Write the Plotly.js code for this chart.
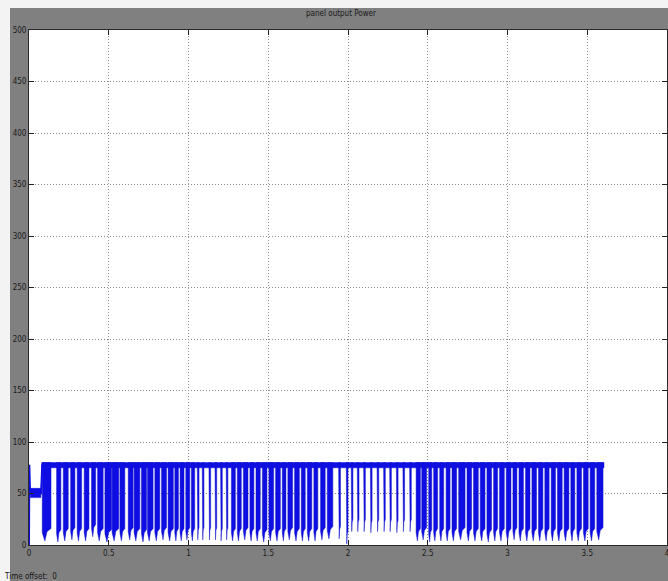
<!DOCTYPE html>
<html>
<head>
<meta charset="utf-8">
<script src="https://cdn.plot.ly/plotly-3.0.1.min.js"></script>
<style>
  html, body { margin: 0; padding: 0; background: #808080; }
  #chart { width: 668px; height: 581px; }
</style>
</head>
<body>
<div id="chart"></div>
<script>
// Panel output power (W) against simulation time (s)

// start-up transient
const initT = [0.000, 0.002, 0.004, 0.006, 0.009, 0.075, 0.079, 0.083];
const initP = [0, 78, 42, 55, 50, 50, 62, 78];
// oscillating band during start-up
const bandT = [0.008, 0.074];
const bandP = [46, 55];

// steady upper power level and where it holds
const highP = [75, 80];
const highT = [0.080, 3.605];

// each switching burst: start time, end time and lowest power reached
const burstStart = [
  0.083, 0.173, 0.215, 0.261, 0.302, 0.346, 0.392, 0.430, 0.476, 0.521, 0.570,
  0.622, 0.659, 0.705, 0.743, 0.789, 0.831, 0.872, 0.914, 0.947, 0.983, 1.018,
  1.055, 1.086, 1.128, 1.166, 1.201, 1.236,
  1.269, 1.306, 1.344, 1.385, 1.423, 1.463, 1.504, 1.546, 1.588, 1.623, 1.665,
  1.707, 1.745, 1.786, 1.828, 1.870,
  1.941, 1.989,
  2.020, 2.058, 2.098, 2.140, 2.182, 2.223, 2.261, 2.303, 2.344, 2.386,
  2.427, 2.462, 2.506, 2.537, 2.575, 2.615, 2.652, 2.694, 2.746, 2.787, 2.829,
  2.871, 2.913, 2.950, 2.992, 3.034, 3.072, 3.113, 3.153, 3.194, 3.234, 3.274,
  3.313, 3.355, 3.397, 3.435, 3.476, 3.518, 3.560
];
const burstEnd = [
  0.138, 0.200, 0.246, 0.288, 0.330, 0.376, 0.418, 0.465, 0.518, 0.563, 0.601,
  0.653, 0.695, 0.737, 0.778, 0.820, 0.862, 0.905, 0.937, 0.972, 1.008, 1.039,
  1.066, 1.097, 1.139, 1.177, 1.212, 1.247,
  1.294, 1.331, 1.373, 1.410, 1.450, 1.492, 1.534, 1.576, 1.611, 1.653, 1.695,
  1.732, 1.773, 1.811, 1.857, 1.905,
  1.953, 2.000,
  2.031, 2.069, 2.109, 2.151, 2.193, 2.234, 2.272, 2.314, 2.355, 2.397,
  2.454, 2.493, 2.525, 2.562, 2.600, 2.640, 2.681, 2.734, 2.775, 2.817, 2.859,
  2.900, 2.938, 2.980, 3.022, 3.059, 3.100, 3.141, 3.182, 3.222, 3.261, 3.301,
  3.343, 3.385, 3.422, 3.464, 3.506, 3.547, 3.599
];
const burstLow = [
  4, 3, 4, 5, 4, 4, 8, 4, 3, 4, 4,
  5, 4, 3, 4, 4, 5, 4, 4, 4, 5, 4,
  5, 5, 5, 5, 4, 5,
  4, 4, 5, 4, 4, 3, 4, 4, 4, 5, 4,
  4, 4, 4, 5, 6,
  6, 1,
  13, 13, 13, 12, 13, 13, 13, 12, 13, 13,
  4, 5, 3, 4, 4, 4, 4, 5, 4, 4, 4,
  3, 4, 4, 4, 5, 4, 4, 4, 4, 4, 4,
  4, 4, 4, 4, 4, 4, 5
];

// axis ticks
const xTicks = [0, 0.5, 1, 1.5, 2, 2.5, 3, 3.5, 4];
const xTickText = ['0', '0.5', '1', '1.5', '2', '2.5', '3', '3.5', '4'];
const yTicks = [0, 50, 100, 150, 200, 250, 300, 350, 400, 450, 500];

// outline builder: closed polygons separated by gaps
function polygons() {
  const px = [], py = [];
  return {
    px, py,
    add(xs, ys) {
      for (let i = 0; i < xs.length; i++) { px.push(xs[i]); py.push(ys[i]); }
      px.push(xs[0]); py.push(ys[0]);
      px.push(null); py.push(null);
    }
  };
}

// upper level bar and start-up band
const steady = polygons();
steady.add([highT[0], highT[1], highT[1], highT[0]], [highP[1], highP[1], highP[0], highP[0]]);
steady.add([bandT[0], bandT[1], bandT[1], bandT[0]], [bandP[1], bandP[1], bandP[0], bandP[0]]);

// switching bursts hanging from the upper level
const bursts = polygons();
const barTop = highP[1];
for (let i = 0; i < burstStart.length; i++) {
  const s = burstStart[i], e = burstEnd[i], lo = burstLow[i], w = e - s;
  bursts.add(
    [s, s, s + 0.3 * w, s + 0.55 * w, e, e],
    [barTop, lo + 8, lo, lo + 9, lo + 12, barTop]
  );
}

const blue = 'rgb(14,14,228)';
const edge = 'rgb(22,22,200)';

const traces = [
  {
    x: steady.px, y: steady.py, type: 'scatter', mode: 'lines',
    fill: 'toself', fillcolor: blue,
    line: { color: blue, width: 0.5 },
    hoverinfo: 'skip', showlegend: false
  },
  {
    x: bursts.px, y: bursts.py, type: 'scatter', mode: 'lines',
    fill: 'toself', fillcolor: blue,
    line: { color: edge, width: 0.5 },
    hoverinfo: 'skip', showlegend: false
  },
  {
    x: initT, y: initP, type: 'scatter', mode: 'lines',
    line: { color: blue, width: 2 },
    hoverinfo: 'skip', showlegend: false
  }
];

const tickFont = { family: 'Liberation Sans Narrow, DejaVu Sans Condensed, Liberation Sans, sans-serif', size: 8, color: '#1a1a1a' };

const layout = {
  width: 668, height: 581,
  margin: { l: 29, r: 1, t: 30, b: 36, pad: 0 },
  paper_bgcolor: '#808080',
  plot_bgcolor: '#ffffff',
  showlegend: false,
  title: {
    text: 'panel output Power',
    font: { family: tickFont.family, size: 8, color: '#1a1a1a' },
    x: 341 / 668, xanchor: 'center', xref: 'container',
    y: 1 - 13 / 581, yanchor: 'middle', yref: 'container'
  },
  xaxis: {
    range: [0, 4], tickvals: xTicks, ticktext: xTickText,
    ticks: 'inside', ticklen: 5, tickcolor: '#222', tickwidth: 1,
    showline: true, linecolor: '#2a2a2a', linewidth: 1, mirror: 'ticks',
    showgrid: true, gridcolor: '#8a8a8a', griddash: '1px,2px', gridwidth: 1,
    zeroline: false, tickfont: tickFont, fixedrange: true,
    ticklabeloverflow: 'allow'
  },
  yaxis: {
    range: [0, 500], tickvals: yTicks,
    ticks: 'inside', ticklen: 5, tickcolor: '#222', tickwidth: 1,
    showline: true, linecolor: '#2a2a2a', linewidth: 1, mirror: 'ticks',
    showgrid: true, gridcolor: '#8a8a8a', griddash: '1px,2px', gridwidth: 1,
    zeroline: false, tickfont: tickFont, fixedrange: true
  },
  shapes: [
    // light window frame strips along the top and left edges
    { type: 'rect', xref: 'paper', yref: 'paper', layer: 'below',
      x0: -29 / 638, x1: 639 / 638, y0: 537 / 515, y1: 545 / 515,
      fillcolor: '#f3f3f3', line: { width: 0 } },
    { type: 'rect', xref: 'paper', yref: 'paper', layer: 'below',
      x0: -29 / 638, x1: -19 / 638, y0: -36 / 515, y1: 545 / 515,
      fillcolor: '#f3f3f3', line: { width: 0 } }
  ],
  annotations: [
    { text: 'Time offset:  0', xref: 'paper', yref: 'paper',
      x: -27 / 638, xanchor: 'left', y: -31 / 515, yanchor: 'middle',
      showarrow: false, font: tickFont }
  ]
};

Plotly.newPlot('chart', traces, layout, { displayModeBar: false, staticPlot: true });
</script>
</body>
</html>
